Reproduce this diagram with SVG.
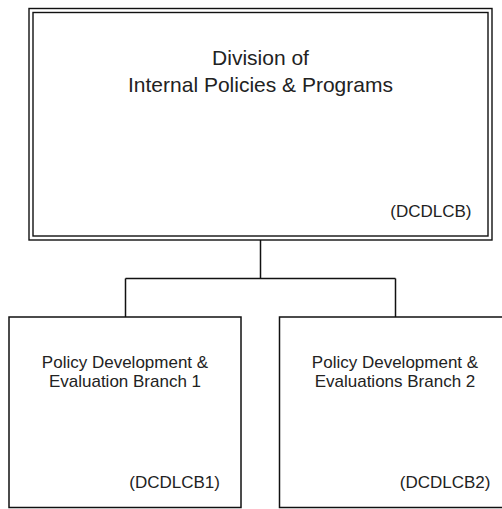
<svg xmlns="http://www.w3.org/2000/svg" width="502" height="509" viewBox="0 0 502 509">
<style>
.box{fill:#fff;stroke:#111;stroke-width:1.5}
.dbl{fill:none;stroke:#111;stroke-width:1.4}
.conn{fill:none;stroke:#111;stroke-width:1.5}
.t{font-family:"Liberation Sans",Arial,sans-serif;fill:#222}
.title{font-size:21px;text-anchor:middle}
.lbl{font-size:17px;text-anchor:middle}
.code{font-size:17px;text-anchor:end}
</style>
<rect width="502" height="509" fill="#fff"/>
<g id="connectors">
<path class="conn" d="M260.5 240 V278.5 M125.5 278.5 H395.5 M125.5 278.5 V317 M395.5 278.5 V317"/>
</g>
<g id="node-division">
<rect class="dbl" x="29" y="8.5" width="463" height="231.5"/>
<rect class="dbl" x="33" y="12.5" width="455" height="223.5"/>
<text class="t title" x="260.5" y="65">Division of</text>
<text class="t title" x="260.5" y="92">Internal Policies &amp; Programs</text>
<text class="t code" x="471.5" y="217">(DCDLCB)</text>
</g>
<g id="node-branch1">
<rect class="box" x="9" y="317" width="232" height="190.5"/>
<text class="t lbl" x="125" y="368">Policy Development &amp;</text>
<text class="t lbl" x="125" y="387">Evaluation Branch 1</text>
<text class="t code" x="220" y="488">(DCDLCB1)</text>
</g>
<g id="node-branch2">
<rect class="box" x="279.5" y="317" width="232" height="190.5"/>
<text class="t lbl" x="395" y="368">Policy Development &amp;</text>
<text class="t lbl" x="395" y="387">Evaluations Branch 2</text>
<text class="t code" x="490.5" y="488">(DCDLCB2)</text>
</g>
</svg>
